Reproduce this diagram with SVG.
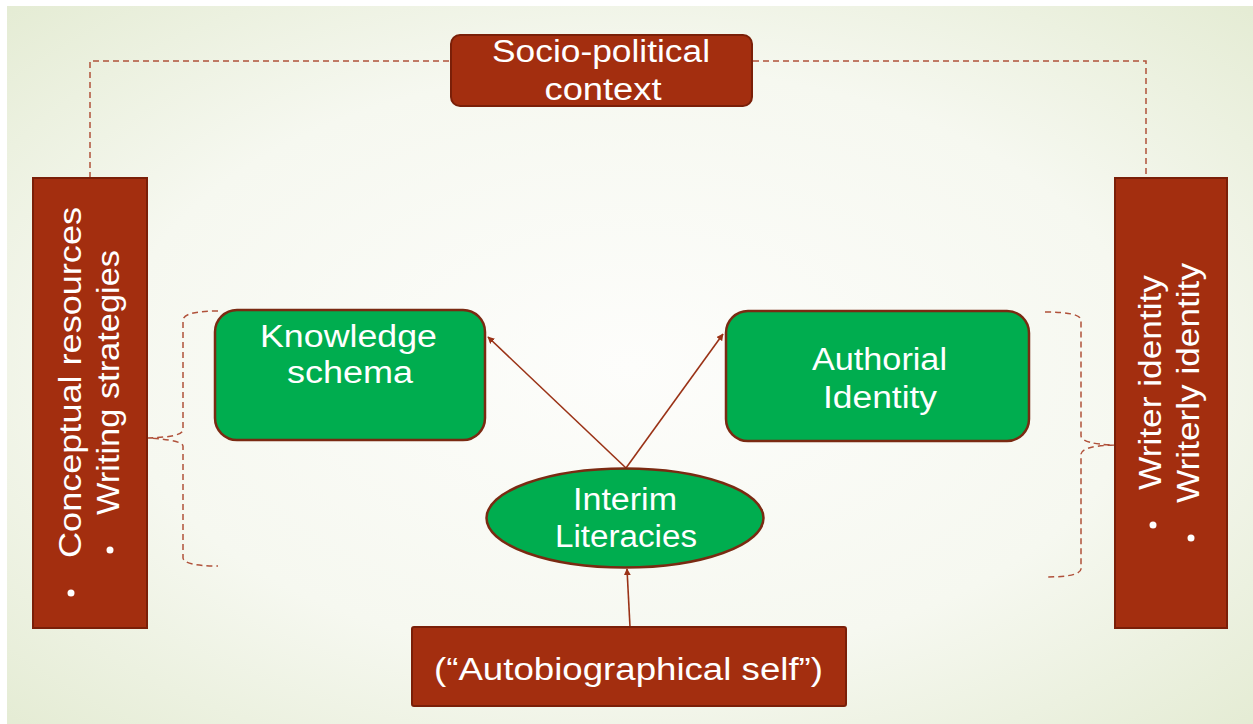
<svg xmlns="http://www.w3.org/2000/svg" width="1253" height="724" viewBox="0 0 1253 724">
<defs>
<radialGradient id="bg" cx="0.5" cy="0.5" r="0.75">
<stop offset="0" stop-color="#fdfdfb"/>
<stop offset="0.55" stop-color="#f6f8f0"/>
<stop offset="1" stop-color="#e2ead0"/>
</radialGradient>
<marker id="ah" viewBox="0 0 10 10" refX="9" refY="5" markerWidth="7" markerHeight="7" orient="auto" markerUnits="userSpaceOnUse">
<path d="M0,0 L10,5 L0,10 z" fill="#9a3216"/>
</marker>
<style>
.brown{fill:#a32e0f;stroke:#7a1f08;stroke-width:2}
.green{fill:#00ad4f;stroke:#7a2a12;stroke-width:2.5}
.t{font-family:"Liberation Sans",Arial,sans-serif;font-size:31px;fill:#ffffff}
.r{font-size:32px}
.dash{fill:none;stroke:#b0513a;stroke-width:1.5;stroke-dasharray:6,4}
.arr{stroke:#9a3216;stroke-width:1.6;fill:none;marker-end:url(#ah)}
</style>
</defs>
<rect x="0" y="0" width="1253" height="724" fill="#ffffff"/>
<rect x="7" y="6" width="1246" height="718" fill="url(#bg)"/>
<g id="connectors">
<path class="dash" d="M90,178 V61 H1146 V178"/>
<path class="dash" d="M218,311 Q184,311 183,320 V430 Q182,437 148,438 Q182,440 183,446 V558 Q184,566 218,566"/>
<path class="dash" d="M1045,312 Q1080,312 1081,320 V436 Q1082,444 1114,445 Q1082,446 1081,454 V569 Q1080,577 1045,577"/>
<line class="arr" x1="626" y1="468" x2="488" y2="337"/>
<line class="arr" x1="626" y1="468" x2="723" y2="334"/>
<line class="arr" x1="630" y1="627" x2="627" y2="569"/>
</g>
<g id="socio">
<rect class="brown" x="451" y="35" width="301" height="71" rx="9"/>
<text class="t" x="601" y="62" text-anchor="middle" textLength="218" lengthAdjust="spacingAndGlyphs">Socio-political</text>
<text class="t" x="603" y="100" text-anchor="middle" textLength="117" lengthAdjust="spacingAndGlyphs">context</text>
</g>
<g id="left">
<rect class="brown" x="33" y="178" width="114" height="450"/>
<text class="t r" x="81" y="558" transform="rotate(-90 81 558)" textLength="351" lengthAdjust="spacingAndGlyphs">Conceptual resources</text>
<circle cx="71" cy="593" r="3.5" fill="#fff"/>
<text class="t r" x="119" y="515" transform="rotate(-90 119 515)" textLength="265" lengthAdjust="spacingAndGlyphs">Writing strategies</text>
<circle cx="110" cy="550" r="3.5" fill="#fff"/>
</g>
<g id="right">
<rect class="brown" x="1115" y="178" width="112" height="450"/>
<text class="t r" x="1161" y="490" transform="rotate(-90 1161 490)" textLength="215" lengthAdjust="spacingAndGlyphs">Writer identity</text>
<circle cx="1153" cy="525" r="3.5" fill="#fff"/>
<text class="t r" x="1199" y="503" transform="rotate(-90 1199 503)" textLength="240" lengthAdjust="spacingAndGlyphs">Writerly identity</text>
<circle cx="1191" cy="538" r="3.5" fill="#fff"/>
</g>
<g id="knowledge">
<rect class="green" x="215" y="310" width="270" height="130" rx="22"/>
<text class="t" x="348.5" y="347" text-anchor="middle" textLength="177" lengthAdjust="spacingAndGlyphs">Knowledge</text>
<text class="t" x="350" y="383" text-anchor="middle" textLength="126" lengthAdjust="spacingAndGlyphs">schema</text>
</g>
<g id="authorial">
<rect class="green" x="726" y="311" width="303" height="130" rx="22"/>
<text class="t" x="879.5" y="370" text-anchor="middle" textLength="135" lengthAdjust="spacingAndGlyphs">Authorial</text>
<text class="t" x="880" y="408" text-anchor="middle" textLength="114" lengthAdjust="spacingAndGlyphs">Identity</text>
</g>
<g id="interim">
<ellipse class="green" cx="625" cy="518" rx="138.5" ry="49.5"/>
<text class="t" x="625" y="510" text-anchor="middle" textLength="104" lengthAdjust="spacingAndGlyphs">Interim</text>
<text class="t" x="626" y="547" text-anchor="middle" textLength="142" lengthAdjust="spacingAndGlyphs">Literacies</text>
</g>
<g id="auto">
<rect class="brown" x="412" y="627" width="434" height="79" rx="2"/>
<text class="t" x="628.5" y="680" text-anchor="middle" textLength="389" lengthAdjust="spacingAndGlyphs">(“Autobiographical self”)</text>
</g>
</svg>
